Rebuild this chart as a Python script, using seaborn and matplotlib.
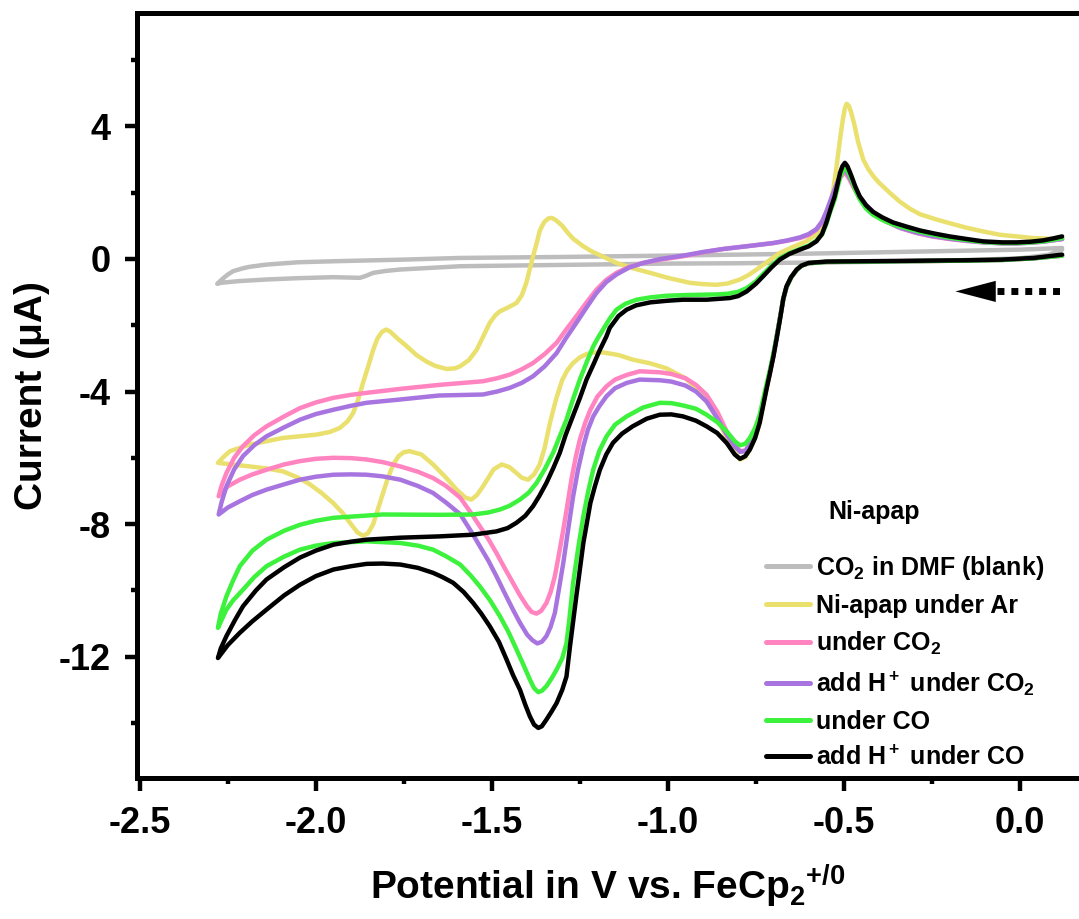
import numpy as np
import pandas as pd
import matplotlib
matplotlib.use("Agg")
import matplotlib.pyplot as plt
from matplotlib.ticker import MultipleLocator
from matplotlib.lines import Line2D
import seaborn as sns

# ---------------- data (potential V vs FeCp2+/0, current uA) ----------------
# every CV = cathodic sweep (0.12 -> -2.28) then anodic return (-2.28 -> 0.12)
blank_E = [0.12, 0.08, 0.0, -0.2, -0.5, -0.8, -1.0, -1.3, -1.59, -1.761, -1.80, -1.837, -1.86, -1.875, -1.95,
           -2.05, -2.14, -2.22, -2.27,
           -2.28, -2.265, -2.25, -2.235, -2.21, -2.19, -2.14, -2.05, -1.95, -1.75, -1.59, -1.3, -1.0, -0.6,
           -0.3, 0.0, 0.12]
blank_I = [0.28, 0.12, 0.02, -0.05, -0.1, -0.13, -0.14, -0.18, -0.22, -0.32, -0.36, -0.42, -0.52, -0.57, -0.55,
           -0.58, -0.62, -0.67, -0.72,
           -0.75, -0.6, -0.47, -0.37, -0.29, -0.24, -0.17, -0.1, -0.07, -0.02, 0.03, 0.06, 0.1, 0.16,
           0.22, 0.28, 0.33]

ar_E = [0.12, 0.04, -0.05, -0.15, -0.25, -0.35, -0.45, -0.55, -0.60, -0.62, -0.634, -0.65, -0.663, -0.672, -0.68,
        -0.69, -0.70, -0.71, -0.72, -0.739, -0.752, -0.767, -0.78, -0.795, -0.81, -0.833, -0.86, -0.89, -0.92,
        -0.95, -1.004, -1.05, -1.099, -1.14, -1.184, -1.21, -1.231, -1.25, -1.269, -1.285, -1.30, -1.318, -1.335,
        -1.35, -1.364, -1.38, -1.397, -1.415, -1.43, -1.45, -1.472, -1.495, -1.525, -1.542, -1.558, -1.575, -1.6,
        -1.63, -1.667, -1.7, -1.733, -1.75, -1.765, -1.78, -1.795, -1.809, -1.825, -1.837, -1.852, -1.866, -1.882,
        -1.903, -1.925, -1.951, -1.985, -2.017, -2.05, -2.093, -2.14, -2.188, -2.24, -2.278,
        -2.26, -2.244, -2.21, -2.188, -2.14, -2.093, -2.045, -1.998, -1.96, -1.932, -1.91, -1.894, -1.88, -1.866,
        -1.85, -1.837, -1.825, -1.812, -1.80, -1.788, -1.77, -1.74, -1.714, -1.685, -1.66, -1.628, -1.605, -1.59,
        -1.565, -1.543, -1.525, -1.506, -1.49, -1.477, -1.455, -1.43, -1.415, -1.402, -1.392, -1.383, -1.372,
        -1.364, -1.352, -1.34, -1.33, -1.318, -1.30, -1.285, -1.27, -1.255, -1.24, -1.215, -1.19, -1.146, -1.1,
        -1.05, -1.0, -0.938, -0.9, -0.862, -0.83, -0.795, -0.77, -0.748, -0.715, -0.682, -0.645, -0.607, -0.58,
        -0.565, -0.55, -0.54, -0.53, -0.52, -0.511, -0.503, -0.497, -0.492, -0.486, -0.48, -0.47, -0.46, -0.445,
        -0.43, -0.415, -0.40, -0.37, -0.34, -0.31, -0.284, -0.24, -0.2, -0.151, -0.1, -0.057, 0.0, 0.038, 0.08,
        0.12]
ar_I = [0.1, 0.02, -0.03, -0.05, -0.06, -0.07, -0.08, -0.09, -0.13, -0.2, -0.33, -0.56, -0.85, -1.2, -1.7,
        -2.3, -2.9, -3.45, -3.95, -4.95, -5.4, -5.75, -5.98, -6.05, -5.85, -5.4, -4.8, -4.3, -3.9,
        -3.6, -3.3, -3.15, -3.04, -2.9, -2.82, -2.82, -2.87, -2.97, -3.14, -3.35, -3.65, -4.25, -4.95,
        -5.7, -6.2, -6.5, -6.66, -6.6, -6.46, -6.28, -6.2, -6.35, -6.86, -7.12, -7.26, -7.2, -6.96,
        -6.6, -6.2, -5.9, -5.8, -5.83, -5.95, -6.2, -6.6, -7.06, -7.6, -8.0, -8.28, -8.35, -8.25,
        -7.96, -7.65, -7.36, -7.05, -6.8, -6.6, -6.41, -6.32, -6.26, -6.2, -6.15,
        -5.95, -5.8, -5.68, -5.6, -5.5, -5.4, -5.35, -5.3, -5.22, -5.1, -4.9, -4.65, -4.25, -3.74,
        -3.2, -2.74, -2.4, -2.2, -2.13, -2.2, -2.38, -2.65, -2.9, -3.1, -3.23, -3.32, -3.3, -3.24,
        -3.05, -2.74, -2.35, -1.93, -1.7, -1.58, -1.47, -1.33, -1.1, -0.72, -0.3, 0.08, 0.5,
        0.85, 1.1, 1.22, 1.24, 1.17, 1.0, 0.8, 0.62, 0.5, 0.38, 0.22, 0.1, -0.12, -0.28,
        -0.42, -0.57, -0.72, -0.76, -0.78, -0.74, -0.62, -0.48, -0.32, -0.07, 0.18, 0.36, 0.53, 0.72,
        0.9, 1.2, 1.6, 2.09, 2.85, 3.6, 4.2, 4.55, 4.68, 4.62, 4.45, 4.05, 3.55, 3.0,
        2.7, 2.48, 2.3, 2.0, 1.72, 1.5, 1.35, 1.2, 1.08, 0.94, 0.82, 0.73, 0.67, 0.63, 0.61,
        0.6]

co2_E = [0.12, 0.04, -0.05, -0.15, -0.25, -0.35, -0.45, -0.55, -0.60, -0.62, -0.634, -0.65, -0.663, -0.672, -0.68,
         -0.69, -0.70, -0.71, -0.72, -0.739, -0.752, -0.767, -0.78, -0.795, -0.81, -0.833, -0.86, -0.89, -0.92,
         -0.95, -0.99, -1.023, -1.08, -1.117, -1.15, -1.174, -1.2, -1.22, -1.235, -1.25, -1.262, -1.274, -1.285,
         -1.297, -1.31, -1.321, -1.333, -1.345, -1.36, -1.373, -1.387, -1.40, -1.42, -1.44, -1.465, -1.487, -1.51,
         -1.534, -1.56, -1.59, -1.63, -1.667, -1.71, -1.76, -1.81, -1.856, -1.9, -1.95, -2.0, -2.045, -2.09,
         -2.14, -2.18, -2.216, -2.25, -2.276,
         -2.268, -2.254, -2.232, -2.207, -2.175, -2.14, -2.09, -2.045, -2.0, -1.95, -1.9, -1.856, -1.76, -1.65,
         -1.525, -1.485, -1.449, -1.415, -1.383, -1.35, -1.316, -1.29, -1.26, -1.23, -1.203, -1.175, -1.146,
         -1.11, -1.07, -1.02, -0.957, -0.9, -0.843, -0.77, -0.70, -0.66, -0.625, -0.6, -0.578, -0.562, -0.55,
         -0.535, -0.521, -0.51, -0.50, -0.493, -0.484, -0.474, -0.458, -0.436, -0.41, -0.379, -0.34, -0.293,
         -0.25, -0.2, -0.15, -0.104, -0.05, -0.009, 0.03, 0.066, 0.12]
co2_I = [0.1, 0.02, -0.03, -0.05, -0.06, -0.07, -0.08, -0.09, -0.13, -0.2, -0.33, -0.56, -0.85, -1.2, -1.7,
         -2.3, -2.9, -3.4, -3.9, -4.85, -5.25, -5.6, -5.78, -5.8, -5.6, -5.2, -4.6, -4.1, -3.8,
         -3.6, -3.47, -3.42, -3.39, -3.5, -3.64, -3.84, -4.15, -4.55, -4.95, -5.45, -6.0, -6.66, -7.4,
         -8.17, -8.95, -9.57, -10.05, -10.38, -10.62, -10.7, -10.65, -10.48, -10.15, -9.77, -9.3, -8.87, -8.45,
         -8.07, -7.65, -7.2, -6.85, -6.61, -6.42, -6.26, -6.13, -6.05, -6.01, -6.0, -6.03, -6.1, -6.2,
         -6.36, -6.5, -6.66, -6.86, -7.16,
         -6.85, -6.46, -6.0, -5.65, -5.32, -5.05, -4.75, -4.5, -4.33, -4.19, -4.1, -4.04, -3.92, -3.8,
         -3.69, -3.6, -3.49, -3.33, -3.14, -2.87, -2.53, -2.15, -1.73, -1.3, -0.93, -0.63, -0.42,
         -0.24, -0.12, -0.02, 0.08, 0.2, 0.3, 0.39, 0.48, 0.55, 0.63, 0.72, 0.88, 1.1, 1.39,
         1.8, 2.19, 2.45, 2.59, 2.55, 2.4, 2.19, 1.88, 1.59, 1.33, 1.12, 0.93, 0.78,
         0.68, 0.6, 0.54, 0.5, 0.47, 0.47, 0.49, 0.52, 0.6]

hco2_E = [0.12, 0.04, -0.05, -0.15, -0.25, -0.35, -0.45, -0.55, -0.60, -0.62, -0.634, -0.65, -0.663, -0.672, -0.68,
          -0.69, -0.70, -0.71, -0.72, -0.739, -0.752, -0.767, -0.78, -0.795, -0.81, -0.833, -0.86, -0.89, -0.92,
          -0.95, -0.99, -1.023, -1.08, -1.117, -1.15, -1.174, -1.195, -1.212, -1.227, -1.24, -1.255, -1.269,
          -1.283, -1.297, -1.31, -1.321, -1.333, -1.345, -1.358, -1.371, -1.385, -1.40, -1.42, -1.44, -1.465,
          -1.487, -1.51, -1.534, -1.56, -1.59, -1.63, -1.667, -1.71, -1.76, -1.81, -1.856, -1.9, -1.95, -2.0,
          -2.045, -2.09, -2.14, -2.18, -2.216, -2.25, -2.276,
          -2.268, -2.254, -2.232, -2.207, -2.175, -2.14, -2.09, -2.045, -2.0, -1.95, -1.9, -1.856, -1.76, -1.65,
          -1.525, -1.485, -1.449, -1.415, -1.383, -1.35, -1.316, -1.29, -1.26, -1.23, -1.203, -1.175, -1.146,
          -1.11, -1.07, -1.02, -0.957, -0.9, -0.843, -0.77, -0.70, -0.66, -0.625, -0.6, -0.578, -0.562, -0.55,
          -0.535, -0.521, -0.51, -0.50, -0.493, -0.484, -0.474, -0.458, -0.436, -0.41, -0.379, -0.34, -0.293,
          -0.25, -0.2, -0.15, -0.104, -0.05, -0.009, 0.03, 0.066, 0.12]
hco2_I = [0.1, 0.02, -0.03, -0.05, -0.06, -0.07, -0.08, -0.09, -0.13, -0.2, -0.33, -0.56, -0.85, -1.2, -1.7,
          -2.3, -2.9, -3.4, -3.9, -4.85, -5.25, -5.6, -5.8, -5.82, -5.65, -5.3, -4.8, -4.3, -4.0,
          -3.82, -3.7, -3.66, -3.64, -3.74, -3.9, -4.14, -4.45, -4.75, -5.15, -5.65, -6.35, -7.16,
          -8.15, -9.17, -10.0, -10.68, -11.1, -11.38, -11.55, -11.6, -11.5, -11.33, -10.98, -10.58, -10.05,
          -9.57, -9.1, -8.67, -8.2, -7.7, -7.35, -7.06, -6.85, -6.66, -6.56, -6.51, -6.5, -6.51, -6.57,
          -6.66, -6.8, -6.96, -7.12, -7.31, -7.5, -7.71,
          -7.35, -6.86, -6.35, -5.95, -5.62, -5.35, -5.08, -4.85, -4.68, -4.55, -4.43, -4.34, -4.24, -4.12,
          -4.09, -4.0, -3.89, -3.74, -3.54, -3.24, -2.84, -2.4, -1.93, -1.45, -1.03, -0.7, -0.47,
          -0.26, -0.12, 0.0, 0.1, 0.21, 0.3, 0.39, 0.48, 0.56, 0.65, 0.75, 0.9, 1.13, 1.42,
          1.85, 2.25, 2.53, 2.68, 2.63, 2.47, 2.25, 1.92, 1.62, 1.35, 1.13, 0.94, 0.79,
          0.69, 0.61, 0.55, 0.5, 0.47, 0.47, 0.49, 0.52, 0.6]

co_E = [0.12, 0.04, -0.05, -0.15, -0.25, -0.35, -0.45, -0.55, -0.60, -0.62, -0.634, -0.65, -0.663, -0.672, -0.68,
        -0.69, -0.70, -0.71, -0.72, -0.739, -0.752, -0.767, -0.78, -0.795, -0.81, -0.833, -0.86, -0.89, -0.92,
        -0.957, -0.99, -1.023, -1.07, -1.117, -1.15, -1.174, -1.195, -1.212, -1.226, -1.24, -1.255, -1.269, -1.28,
        -1.288, -1.30, -1.316, -1.33, -1.345, -1.358, -1.368, -1.38, -1.392, -1.41, -1.43, -1.453, -1.477, -1.505,
        -1.534, -1.56, -1.59, -1.63, -1.667, -1.71, -1.76, -1.856, -1.95, -2.0, -2.045, -2.09, -2.14, -2.175,
        -2.207, -2.235, -2.254, -2.278,
        -2.27, -2.254, -2.235, -2.216, -2.18, -2.14, -2.09, -2.045, -2.0, -1.95, -1.81, -1.648, -1.554, -1.51,
        -1.477, -1.45, -1.42, -1.395, -1.373, -1.35, -1.326, -1.307, -1.288, -1.27, -1.25, -1.23, -1.212, -1.198,
        -1.184, -1.165, -1.146, -1.12, -1.089, -1.05, -1.004, -0.95, -0.909, -0.86, -0.83, -0.8, -0.776, -0.75,
        -0.729, -0.705, -0.682, -0.655, -0.625, -0.6, -0.578, -0.562, -0.55, -0.538, -0.526, -0.518, -0.511,
        -0.504, -0.497, -0.49, -0.484, -0.478, -0.468, -0.455, -0.437, -0.417, -0.39, -0.36, -0.32, -0.284,
        -0.24, -0.2, -0.15, -0.104, -0.05, -0.009, 0.03, 0.066, 0.095, 0.12]
co_I = [0.1, 0.02, -0.03, -0.05, -0.06, -0.07, -0.08, -0.09, -0.13, -0.2, -0.33, -0.56, -0.85, -1.2, -1.7,
        -2.3, -2.85, -3.35, -3.8, -4.7, -5.1, -5.4, -5.58, -5.62, -5.5, -5.2, -4.92, -4.7, -4.52,
        -4.42, -4.35, -4.34, -4.48, -4.75, -5.0, -5.35, -5.8, -6.36, -7.0, -7.76, -8.75, -9.77, -10.9,
        -11.6, -12.05, -12.39, -12.65, -12.89, -13.03, -13.07, -12.95, -12.69, -12.25, -11.78, -11.25, -10.78, -10.3,
        -9.88, -9.55, -9.22, -8.97, -8.77, -8.65, -8.57, -8.52, -8.57, -8.65, -8.77, -8.98, -9.27, -9.6,
        -9.98, -10.3, -10.58, -11.13,
        -10.7, -10.18, -9.7, -9.27, -8.8, -8.47, -8.2, -8.02, -7.9, -7.81, -7.71, -7.72, -7.71, -7.65,
        -7.56, -7.45, -7.26, -7.05, -6.76, -6.35, -5.85, -5.35, -4.85, -4.25, -3.64, -3.1, -2.64, -2.37,
        -2.13, -1.8, -1.53, -1.35, -1.23, -1.16, -1.11, -1.09, -1.08, -1.07, -1.05, -0.99, -0.88, -0.68,
        -0.45, -0.2, 0.02, 0.17, 0.3, 0.4, 0.55, 0.75, 1.05, 1.45, 1.8, 2.15, 2.45,
        2.65, 2.75, 2.67, 2.53, 2.4, 2.1, 1.8, 1.52, 1.33, 1.17, 1.04, 0.92, 0.82,
        0.72, 0.64, 0.57, 0.51, 0.48, 0.48, 0.5, 0.53, 0.58, 0.63]

hco_E = [0.12, 0.04, -0.05, -0.15, -0.25, -0.35, -0.45, -0.55, -0.60, -0.62, -0.634, -0.65, -0.663, -0.672, -0.68,
         -0.69, -0.70, -0.71, -0.72, -0.739, -0.752, -0.767, -0.78, -0.795, -0.81, -0.833, -0.86, -0.89, -0.92,
         -0.957, -0.99, -1.023, -1.06, -1.10, -1.13, -1.156, -1.175, -1.193, -1.207, -1.22, -1.24, -1.26, -1.278,
         -1.288, -1.30, -1.316, -1.33, -1.345, -1.358, -1.368, -1.38, -1.392, -1.405, -1.42, -1.44, -1.458, -1.48,
         -1.506, -1.53, -1.553, -1.58, -1.61, -1.64, -1.667, -1.71, -1.76, -1.81, -1.856, -1.90, -1.95, -2.0,
         -2.045, -2.09, -2.14, -2.18, -2.216, -2.25, -2.278,
         -2.27, -2.254, -2.23, -2.207, -2.17, -2.14, -2.09, -2.045, -2.0, -1.95, -1.9, -1.856, -1.76, -1.648,
         -1.554, -1.487, -1.455, -1.43, -1.405, -1.383, -1.365, -1.345, -1.325, -1.307, -1.29, -1.27, -1.25,
         -1.231, -1.21, -1.193, -1.175, -1.165, -1.14, -1.117, -1.09, -1.05, -1.0, -0.957, -0.89, -0.824, -0.8,
         -0.776, -0.75, -0.729, -0.705, -0.682, -0.655, -0.625, -0.6, -0.578, -0.562, -0.55, -0.538, -0.526,
         -0.518, -0.511, -0.504, -0.497, -0.49, -0.484, -0.478, -0.468, -0.455, -0.437, -0.417, -0.39, -0.36,
         -0.32, -0.284, -0.24, -0.2, -0.15, -0.104, -0.05, -0.009, 0.03, 0.066, 0.095, 0.12]
hco_I = [0.13, 0.03, -0.02, -0.04, -0.05, -0.06, -0.07, -0.08, -0.12, -0.2, -0.32, -0.55, -0.83, -1.2, -1.73,
         -2.35, -2.94, -3.45, -3.94, -4.94, -5.4, -5.75, -5.95, -6.03, -5.9, -5.55, -5.25, -5.05, -4.88,
         -4.75, -4.69, -4.70, -4.82, -5.05, -5.27, -5.55, -5.9, -6.36, -6.85, -7.36, -8.57, -10.18, -11.69,
         -12.6, -13.0, -13.4, -13.65, -13.9, -14.1, -14.15, -14.05, -13.8, -13.45, -13.0, -12.55, -12.09, -11.55,
         -11.08, -10.7, -10.38, -10.05, -9.77, -9.6, -9.47, -9.32, -9.22, -9.19, -9.2, -9.27, -9.37, -9.57,
         -9.83, -10.15, -10.58, -10.93, -11.28, -11.65, -12.04,
         -11.75, -11.38, -10.9, -10.48, -10.0, -9.67, -9.3, -9.01, -8.8, -8.62, -8.53, -8.47, -8.41, -8.37,
         -8.32, -8.22, -8.12, -7.96, -7.75, -7.46, -7.15, -6.76, -6.3, -5.85, -5.3, -4.75, -4.2,
         -3.64, -3.15, -2.74, -2.35, -2.08, -1.72, -1.53, -1.4, -1.31, -1.26, -1.23, -1.23, -1.18, -1.12,
         -0.98, -0.75, -0.52, -0.25, -0.02, 0.15, 0.28, 0.38, 0.53, 0.75, 1.09, 1.5, 1.89,
         2.25, 2.59, 2.8, 2.90, 2.8, 2.65, 2.49, 2.2, 1.89, 1.62, 1.42, 1.25, 1.1,
         0.97, 0.86, 0.76, 0.68, 0.6, 0.53, 0.5, 0.50, 0.52, 0.56, 0.62, 0.68]

series_names = ["blank", "Ar", "CO2", "H+ CO2", "CO", "H+ CO"]
series_labels = [r"CO$_2$ in DMF (blank)", "Ni-apap under Ar", r"under CO$_2$",
                 r"add H$^+$ under CO$_2$", "under CO", r"add H$^+$ under CO"]
series_colors = ["#BDBDBD", "#EAE06E", "#FF84C0", "#A875E0", "#3CF23C", "#000000"]
xticks = [-2.5, -2.0, -1.5, -1.0, -0.5, 0.0]
yticks = [-12, -8, -4, 0, 4]

curves = [(blank_E, blank_I), (ar_E, ar_I), (co2_E, co2_I),
          (hco2_E, hco2_I), (co_E, co_I), (hco_E, hco_I)]
frames = []
for name, (E, I) in zip(series_names, curves):
    frames.append(pd.DataFrame({"E": E, "I": I, "series": name}))
df = pd.concat(frames, ignore_index=True)

# ---------------- style ----------------
sns.set_theme(style="ticks")
plt.rcParams["font.family"] = ["Liberation Sans", "DejaVu Sans"]
plt.rcParams["font.weight"] = "bold"
plt.rcParams["axes.labelweight"] = "bold"
for k in ["text.color", "axes.labelcolor", "xtick.color", "ytick.color", "axes.edgecolor"]:
    plt.rcParams[k] = "black"
plt.rcParams["mathtext.fontset"] = "custom"
plt.rcParams["mathtext.rm"] = "Liberation Sans:bold"
plt.rcParams["mathtext.it"] = "Liberation Sans:bold"
plt.rcParams["mathtext.bf"] = "Liberation Sans:bold"
plt.rcParams["mathtext.default"] = "bf"

fig = plt.figure(figsize=(10.79, 9.19), dpi=100)
ax = fig.add_axes([137 / 1079, 141 / 919, 942 / 1079, 765 / 919])

sns.lineplot(data=df, x="E", y="I", hue="series", hue_order=series_names,
             palette=dict(zip(series_names, series_colors)), sort=False,
             estimator=None, linewidth=3.2, ax=ax, legend=False,
             solid_joinstyle="round", solid_capstyle="round")

ax.set_xlim(-2.508, 0.168)
ax.set_ylim(-15.66, 7.42)
ax.set_xticks(xticks)
ax.set_xticklabels([f"{v:.1f}" for v in xticks])
ax.set_yticks(yticks)
ax.set_yticklabels([f"{v:d}" for v in yticks])
ax.xaxis.set_minor_locator(MultipleLocator(0.25))
ax.yaxis.set_minor_locator(MultipleLocator(2))

for side in ["left", "bottom", "top"]:
    ax.spines[side].set_linewidth(3.6)
    ax.spines[side].set_color("black")
ax.spines["right"].set_visible(False)
ax.tick_params(which="major", direction="out", length=9, width=3.2, color="black",
               labelsize=26, labelcolor="black", top=False, right=False)
ax.tick_params(which="minor", direction="out", length=4.5, width=3.2, color="black",
               top=False, right=False)
ax.tick_params(axis="x", which="major", pad=11)
ax.tick_params(axis="y", which="major", pad=10)
for lab in ax.get_xticklabels() + ax.get_yticklabels():
    lab.set_fontweight("bold")

ax.set_xlabel(r"Potential in V vs. FeCp$_2$$^{+/0}$", fontsize=28, labelpad=16, color="black")
ax.set_ylabel("Current (μA)", fontsize=28, labelpad=6, color="black")

# legend
handles = [Line2D([], [], color=c, lw=3.6) for c in series_colors]
leg = ax.legend(handles, series_labels, loc="upper left", bbox_to_anchor=(0.668, 0.293),
                frameon=False, fontsize=18, handlelength=1.75, handletextpad=0.25,
                labelspacing=0.48, borderpad=0, borderaxespad=0)
for t in leg.get_texts():
    t.set_fontweight("bold")
    t.set_color("black")
ax.text(0.782, 0.348, "Ni-apap", transform=ax.transAxes, fontsize=18, fontweight="bold",
        ha="center", va="center", color="black")

# scan direction arrow
ax.plot([-0.065, 0.12], [-0.98, -0.98], color="black", lw=5, linestyle=(0, (1, 1)),
        solid_capstyle="butt", dash_capstyle="butt")
ax.annotate("", xy=(-0.183, -0.98), xytext=(-0.06, -0.98),
            arrowprops=dict(arrowstyle="-|>,head_length=1.45,head_width=0.38",
                            mutation_scale=20, color="black", lw=0.01,
                            shrinkA=0, shrinkB=0))

fig.savefig("out.png", dpi=100)
